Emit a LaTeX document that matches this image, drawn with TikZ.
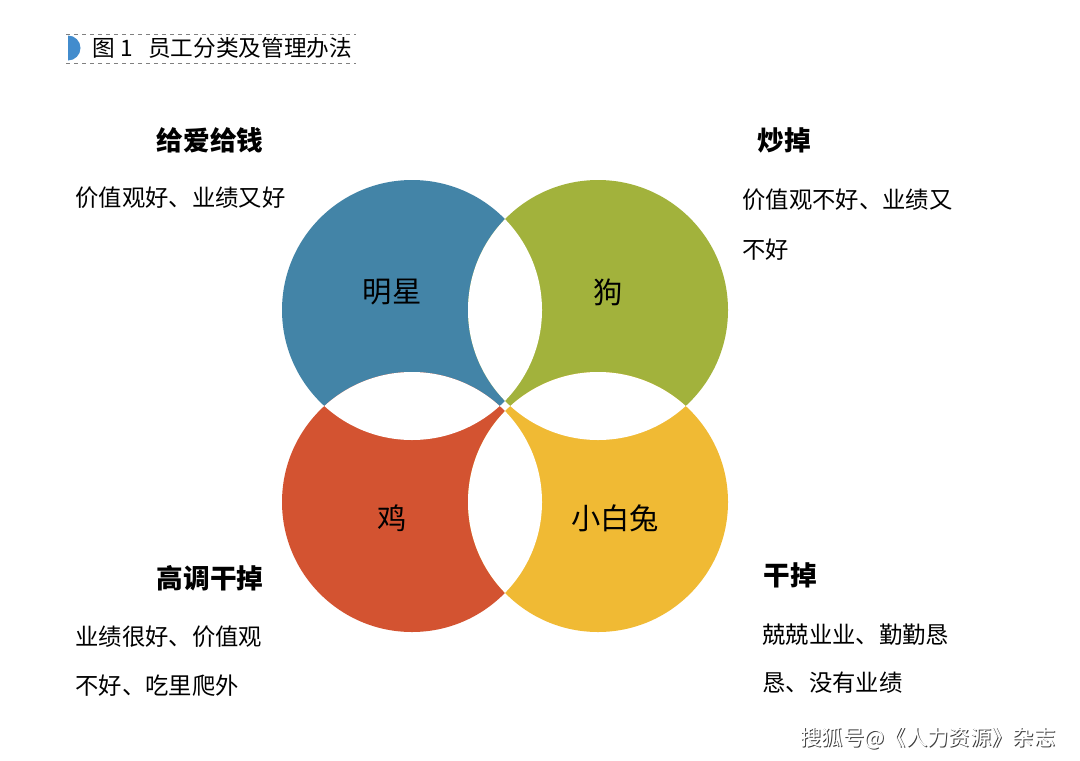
\documentclass[tikz,border=0pt]{standalone}
\usepackage{fontspec}
\setmainfont{Noto Sans CJK SC}
\tikzset{every picture/.style={line width=0.75pt}}
\definecolor{cblue}{RGB}{67,132,167}
\definecolor{cgreen}{RGB}{162,178,60}
\definecolor{cred}{RGB}{211,83,49}
\definecolor{cyellow}{RGB}{240,186,52}
\definecolor{ctitle}{RGB}{66,140,205}
\tikzset{
  animal/.style={font=\fontsize{22}{26}\selectfont},
  head/.style={font=\fontsize{20}{24}\selectfont\bfseries},
  desc/.style={font=\fontsize{17.5}{21}\selectfont, anchor=west, inner sep=0pt},
}
\begin{document}
\begin{tikzpicture}[x=0.75pt,y=0.75pt,yscale=-1]
\useasboundingbox (0,0) rectangle (1080,760);

% title
\draw [gray, dashed, line width=0.6] (66,34) -- (356,34) ;
\draw [gray, dashed, line width=0.6] (66,63) -- (356,63) ;
\fill [ctitle] (68,35.5) arc (-90:90:12.5) -- cycle ;
\node (title) [anchor=west, inner sep=0pt, font=\fontsize{17}{20}\selectfont] at (92,48) {图 1\ \ \ 员工分类及管理办法};

% circles
\fill [cblue] (412,310) circle (130) ;
\fill [cgreen] (598,310) circle (130) ;
\fill [cred] (412,502) circle (130) ;
\fill [cyellow] (598,502) circle (130) ;
\begin{scope} \clip (412,310) circle (130); \fill [white] (598,310) circle (130); \fill [white] (412,502) circle (130); \end{scope}
\begin{scope} \clip (598,502) circle (130); \fill [white] (598,310) circle (130); \fill [white] (412,502) circle (130); \end{scope}

\node (star) [animal] at (392,292) {明星};
\node (dog) [animal] at (608,292) {狗};
\node (hen) [animal] at (392,518) {鸡};
\node (rabbit) [animal] at (615,518) {小白兔};

\node (h1) [head] at (210,140) {给爱给钱};
\node (h2) [head] at (784,140) {炒掉};
\node (h3) [head] at (210,578) {高调干掉};
\node (h4) [head] at (790,575) {干掉};

\node (d1) [desc] at (75,198) {价值观好、业绩又好};
\node (d2a) [desc] at (742,200) {价值观不好、业绩又};
\node (d2b) [desc] at (742,250) {不好};
\node (d3a) [desc] at (75,637) {业绩很好、价值观};
\node (d3b) [desc] at (75,686) {不好、吃里爬外};
\node (d4a) [desc] at (762,635) {兢兢业业、勤勤恳};
\node (d4b) [desc] at (762,683) {恳、没有业绩};

% watermark
\node (wms) [desc, font=\fontsize{16}{20}\selectfont, text=black!75] at (801,739) {搜狐号@《人力资源》杂志};
\node (wm) [desc, font=\fontsize{16}{20}\selectfont, text=white] at (800,738) {搜狐号@《人力资源》杂志};

\end{tikzpicture}
\end{document}
